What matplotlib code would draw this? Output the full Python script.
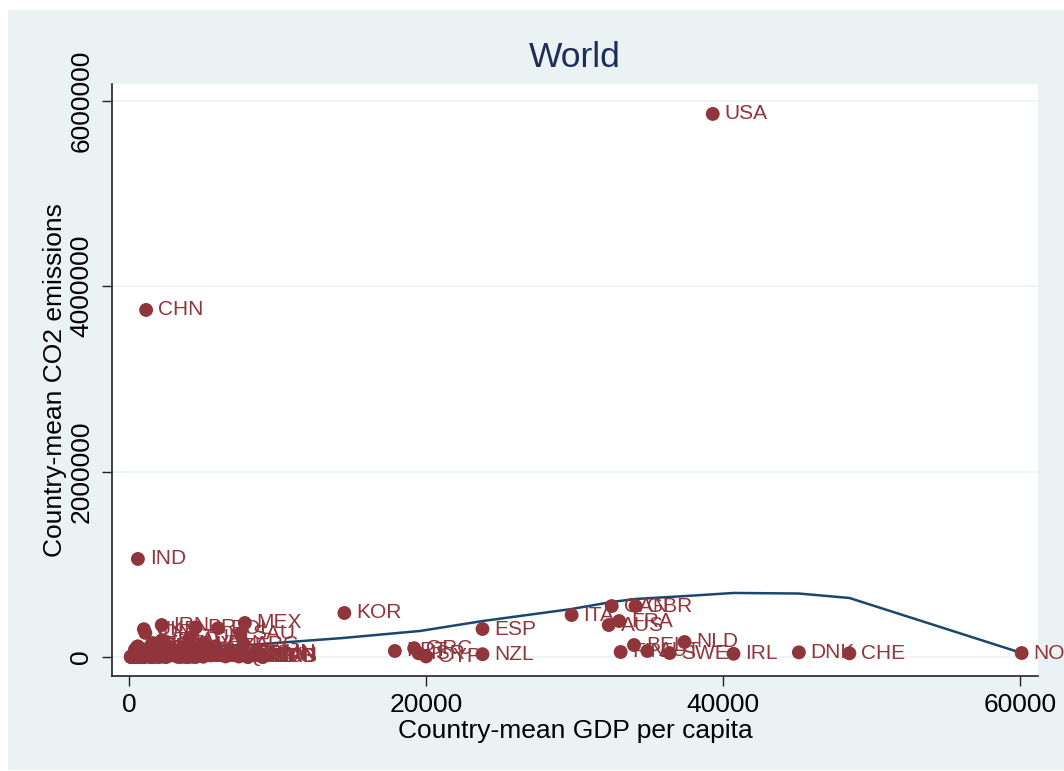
import matplotlib
matplotlib.use("Agg")
import matplotlib.pyplot as plt
from matplotlib.patches import Rectangle

plt.rcParams['font.family'] = ['Liberation Sans', 'DejaVu Sans']

# country means: ISO code, GDP per capita, CO2 emissions
codes = ['USA', 'CHN', 'IND', 'KOR', 'MEX', 'ESP', 'ITA', 'CAN', 'GBR', 'AUS', 'FRA',
         'PRT', 'GRC', 'ISR', 'CYP', 'NZL', 'FIN', 'BEL', 'AUT', 'SWE', 'NLD',
         'IRL', 'DNK', 'CHE', 'NOR',
         'UKR', 'IDN', 'IRN', 'BRA', 'POL', 'TUR', 'SAU', 'THA', 'ARG', 'MYS',
         'VEN', 'EGY', 'KAZ', 'CZE', 'ROU', 'PAK', 'UZB', 'DZA', 'PHL', 'NGA',
         'VNM', 'HUN', 'CHL', 'COL', 'BLR', 'PER', 'SVK', 'GAB', 'BGD', 'MAR',
         'SYR', 'TKM', 'AZE', 'CUB', 'ECU', 'SRB', 'BGR', 'HRV', 'LBY', 'TUN',
         'SVN', 'EST', 'LTU', 'LVA', 'JOR', 'DOM', 'GTM', 'SLV', 'HND', 'NIC',
         'BOL', 'PRY', 'URY', 'CRI', 'PAN', 'JAM', 'TTO', 'LKA', 'MNG', 'NPL',
         'KHM', 'KEN', 'ETH', 'TZA', 'UGA', 'GHA', 'CIV', 'CMR', 'SEN', 'ZMB',
         'ZWE', 'MOZ', 'AGO', 'SDN', 'YEM', 'ARM', 'GEO', 'MDA', 'KGZ', 'TJK',
         'ALB', 'MKD', 'BIH', 'LBN', 'OMN', 'BWA', 'NAM', 'MUS',
         'IRQ', 'PRK', 'MMR', 'AFG', 'BEN', 'BFA', 'BDI', 'CAF', 'TCD', 'COD',
         'COG', 'ERI', 'GIN', 'HTI', 'LAO', 'LSO', 'MDG', 'MWI', 'MLI', 'MRT',
         'NER', 'RWA', 'SLE', 'TGO', 'PNG', 'FJI', 'GUY', 'SUR', 'BLZ', 'SWZ',
         'GNQ', 'SYC', 'BRB', 'LCA', 'GRD', 'DMA', 'ATG', 'KNA', 'VCT', 'MDV',
         'BTN', 'TON', 'WSM', 'VUT', 'SLB', 'COM', 'STP', 'GMB', 'DJI', 'TLS']
gdp = [39300, 1150, 600, 14500, 7800, 23800, 29800, 32500, 34100, 32300, 33000,
       17900, 19200, 19500, 20000, 23800, 33100, 34000, 34900, 36400, 37400,
       40700, 45100, 48500, 60100,
       1000, 1100, 2200, 4500, 6000, 4100, 7500, 2200, 7700, 4200,
       5000, 1500, 1600, 5800, 2000, 550, 600, 1900, 1050, 400,
       500, 8700, 5000, 2500, 1700, 2300, 6800, 7400, 400, 1400,
       1200, 1000, 900, 2500, 1400, 3500, 2000, 5000, 6000, 2200,
       9000, 4500, 4000, 4000, 1800, 2800, 1600, 2000, 1100, 800,
       1000, 1400, 6500, 4300, 4500, 3200, 7500, 900, 500, 250,
       400, 450, 150, 300, 250, 300, 600, 650, 500, 350,
       500, 250, 1000, 500, 550, 900, 900, 500, 350, 200,
       1300, 1800, 1500, 5500, 8500, 4000, 2300, 4300,
       1000, 500, 300, 200, 350, 250, 120, 250, 200, 120,
       1000, 200, 400, 450, 350, 450, 250, 150, 250, 500,
       180, 250, 250, 250, 650, 2000, 1000, 2500, 3500, 1500,
       5000, 8000, 9000, 4500, 4000, 3800, 9000, 8000, 3300, 2500,
       1000, 2000, 1700, 1500, 900, 400, 700, 350, 800, 400]
co2 = [5860000, 3745000, 1058000, 475000, 367000, 302000, 453000, 550000, 550000, 345000, 388000,
       65000, 95000, 40000, 6000, 30000, 54000, 129000, 65000, 43000, 162000,
       35000, 50000, 40000, 43000,
       300000, 260000, 345000, 320000, 310000, 210000, 250000, 180000, 130000, 130000,
       150000, 130000, 150000, 115000, 95000, 110000, 115000, 85000, 75000, 80000,
       65000, 45000, 55000, 60000, 60000, 30000, 38000, 5000, 30000, 35000,
       45000, 40000, 30000, 27000, 25000, 45000, 45000, 20000, 45000, 20000,
       15000, 17000, 13000, 7000, 17000, 18000, 10000, 6000, 7000, 4000,
       10000, 4000, 6000, 6000, 7000, 10000, 30000, 11000, 8000, 3000,
       3000, 10000, 6000, 5000, 2000, 7000, 7000, 4000, 5000, 2000,
       12000, 2000, 15000, 10000, 20000, 4000, 5000, 7000, 5000, 5000,
       4000, 10000, 20000, 17000, 35000, 4000, 3000, 3000,
       80000, 75000, 10000, 1000, 2000, 1000, 300, 300, 300, 2000,
       1000, 700, 1300, 1700, 1000, 300, 1800, 900, 600, 1500,
       900, 600, 700, 1200, 2500, 1000, 1500, 2000, 700, 1000,
       3000, 500, 1200, 400, 200, 100, 400, 200, 200, 500,
       400, 100, 150, 100, 200, 100, 100, 300, 400, 200]

# lowess smooth of CO2 on GDP per capita
fit_gdp = [400, 2000, 5000, 8100, 14400, 19600, 23800, 29800, 32500, 34100,
           37500, 40700, 45100, 48500, 60100]
fit_co2 = [80000, 95000, 115000, 130000, 205000, 281000, 388000, 518000, 594000, 626000,
           658000, 691000, 685000, 637000, 43000]

maroon = '#90353B'
navy = '#1A476F'
bg = '#EAF2F3'

fig = plt.figure(figsize=(10.64, 7.71), dpi=100)
fig.patch.set_facecolor('white')
# shaded graph region behind the plot area
fig.add_artist(Rectangle((8 / 1064, 1 / 771), 1.0, 760 / 771,
                         transform=fig.transFigure, facecolor=bg,
                         edgecolor='none', zorder=-10))

ax = fig.add_axes([112 / 1064, (771 - 676) / 771, 926 / 1064, 592 / 771])
ax.set_facecolor('white')

ax.plot(fit_gdp, fit_co2, color=navy, linewidth=1.8, zorder=1.5)
ax.scatter(gdp, co2, s=100, color=maroon, edgecolors='none', zorder=3)
for c, x, y in zip(codes, gdp, co2):
    ax.annotate(c, (x, y), xytext=(8.5, 0), textcoords='offset points',
                va='center', ha='left', fontsize=15, color=maroon,
                zorder=2, annotation_clip=False)

ax.set_xlim(-1145, 61200)
ax.set_ylim(-205000, 6183000)
ax.set_xticks([0, 20000, 40000, 60000])
ax.set_yticks([0, 2000000, 4000000, 6000000])
ax.set_xticklabels(['0', '20000', '40000', '60000'])
ax.set_yticklabels(['0', '2000000', '4000000', '6000000'])

ax.grid(axis='y', color=bg, linewidth=1.1, zorder=0)
ax.set_axisbelow(True)
for side in ['top', 'right']:
    ax.spines[side].set_visible(False)
for side in ['left', 'bottom']:
    ax.spines[side].set_linewidth(1.2)
    ax.spines[side].set_color('#222222')

ax.tick_params(axis='both', direction='out', length=7.2, width=1.0,
               labelsize=19, color='#222222')
ax.tick_params(axis='x', pad=5)
ax.tick_params(axis='y', pad=15, labelrotation=90)
for lab in ax.get_yticklabels():
    lab.set_va('center')
    lab.set_ha('center')

ax.set_xlabel('Country-mean GDP per capita', fontsize=19)
ax.set_ylabel('Country-mean CO2 emissions', fontsize=19)
ax.xaxis.set_label_coords(0.5, (676 - 731) / 592)
ax.xaxis.label.set_va('center')
ax.yaxis.set_label_coords((55 - 112) / 926, 0.5)
ax.yaxis.label.set_va('center')

ax.set_title('World', fontsize=25.5, color='#1E2D5A', pad=12)

fig.savefig('out.png', dpi=100, facecolor=fig.get_facecolor())
